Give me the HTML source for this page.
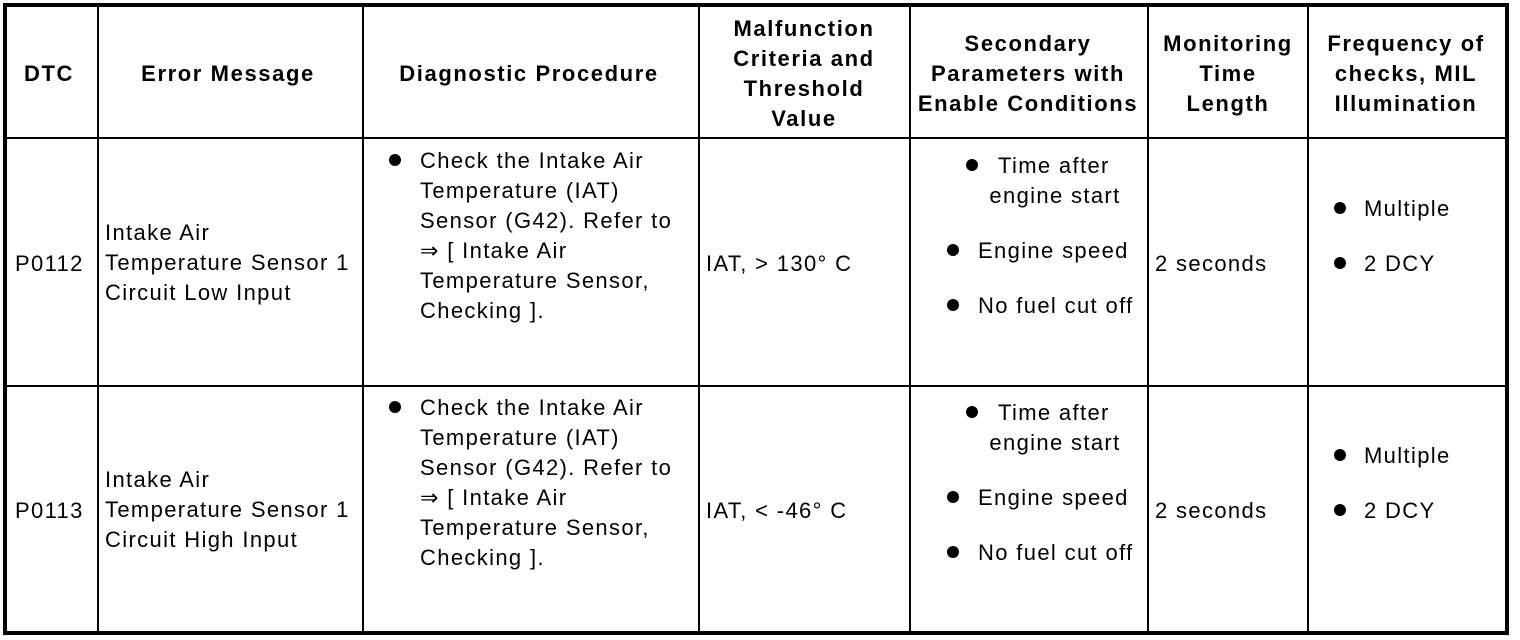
<!DOCTYPE html>
<html><head><meta charset="utf-8"><style>
html,body{margin:0;padding:0;background:#fff;}
svg{display:block;}
text{font-family:"Liberation Sans",Arial,sans-serif;font-size:22px;letter-spacing:1.35px;fill:#000;}
.h{font-weight:bold;text-anchor:middle;letter-spacing:1.6px;}
</style></head><body>
<svg width="1520" height="640" viewBox="0 0 1520 640" xmlns="http://www.w3.org/2000/svg">
<rect x="5" y="5" width="1502" height="628" fill="none" stroke="#000" stroke-width="4"/>
<g stroke="#000" stroke-width="2">
<line x1="7" y1="138" x2="1505" y2="138"/>
<line x1="7" y1="386" x2="1505" y2="386"/>
<line x1="98" y1="7" x2="98" y2="631"/>
<line x1="363" y1="7" x2="363" y2="631"/>
<line x1="699" y1="7" x2="699" y2="631"/>
<line x1="910" y1="7" x2="910" y2="631"/>
<line x1="1148" y1="7" x2="1148" y2="631"/>
<line x1="1308" y1="7" x2="1308" y2="631"/>
</g>
<g>
<text class="h" x="49" y="81">DTC</text>
<text class="h" x="228" y="81">Error Message</text>
<text class="h" x="529" y="81">Diagnostic Procedure</text>
<text class="h" x="804" y="36">Malfunction</text>
<text class="h" x="804" y="66">Criteria and</text>
<text class="h" x="804" y="96">Threshold</text>
<text class="h" x="804" y="126">Value</text>
<text class="h" x="1028" y="51">Secondary</text>
<text class="h" x="1028" y="81">Parameters with</text>
<text class="h" x="1028" y="111">Enable Conditions</text>
<text class="h" x="1228" y="51">Monitoring</text>
<text class="h" x="1228" y="81">Time</text>
<text class="h" x="1228" y="111">Length</text>
<text class="h" x="1406" y="51">Frequency of</text>
<text class="h" x="1406" y="81">checks, MIL</text>
<text class="h" x="1406" y="111">Illumination</text>
</g>
<g id="r1">
<text x="15" y="271">P0112</text>
<text x="105" y="240">Intake Air</text>
<text x="105" y="270">Temperature Sensor 1</text>
<text x="105" y="300">Circuit Low Input</text>
<circle cx="395" cy="160" r="6"/>
<text x="420" y="168">Check the Intake Air</text>
<text x="420" y="198">Temperature (IAT)</text>
<text x="420" y="228">Sensor (G42). Refer to</text>
<text x="420" y="258">⇒ [ Intake Air</text>
<text x="420" y="288">Temperature Sensor,</text>
<text x="420" y="318">Checking ].</text>
<text x="706" y="271">IAT, &gt; 130° C</text>
<circle cx="972" cy="165" r="6"/>
<text x="998" y="173">Time after</text>
<text x="1055" y="203" text-anchor="middle">engine start</text>
<circle cx="953" cy="250" r="6"/>
<text x="978" y="258">Engine speed</text>
<circle cx="953" cy="305" r="6"/>
<text x="978" y="313">No fuel cut off</text>
<text x="1155" y="271">2 seconds</text>
<circle cx="1340" cy="208" r="6"/>
<text x="1364" y="216">Multiple</text>
<circle cx="1340" cy="263" r="6"/>
<text x="1364" y="271">2 DCY</text>
</g>
<g transform="translate(0,247)">
<text x="15" y="271">P0113</text>
<text x="105" y="240">Intake Air</text>
<text x="105" y="270">Temperature Sensor 1</text>
<text x="105" y="300">Circuit High Input</text>
<circle cx="395" cy="160" r="6"/>
<text x="420" y="168">Check the Intake Air</text>
<text x="420" y="198">Temperature (IAT)</text>
<text x="420" y="228">Sensor (G42). Refer to</text>
<text x="420" y="258">⇒ [ Intake Air</text>
<text x="420" y="288">Temperature Sensor,</text>
<text x="420" y="318">Checking ].</text>
<text x="706" y="271">IAT, &lt; -46° C</text>
<circle cx="972" cy="165" r="6"/>
<text x="998" y="173">Time after</text>
<text x="1055" y="203" text-anchor="middle">engine start</text>
<circle cx="953" cy="250" r="6"/>
<text x="978" y="258">Engine speed</text>
<circle cx="953" cy="305" r="6"/>
<text x="978" y="313">No fuel cut off</text>
<text x="1155" y="271">2 seconds</text>
<circle cx="1340" cy="208" r="6"/>
<text x="1364" y="216">Multiple</text>
<circle cx="1340" cy="263" r="6"/>
<text x="1364" y="271">2 DCY</text>
</g>
</svg>
</body></html>
